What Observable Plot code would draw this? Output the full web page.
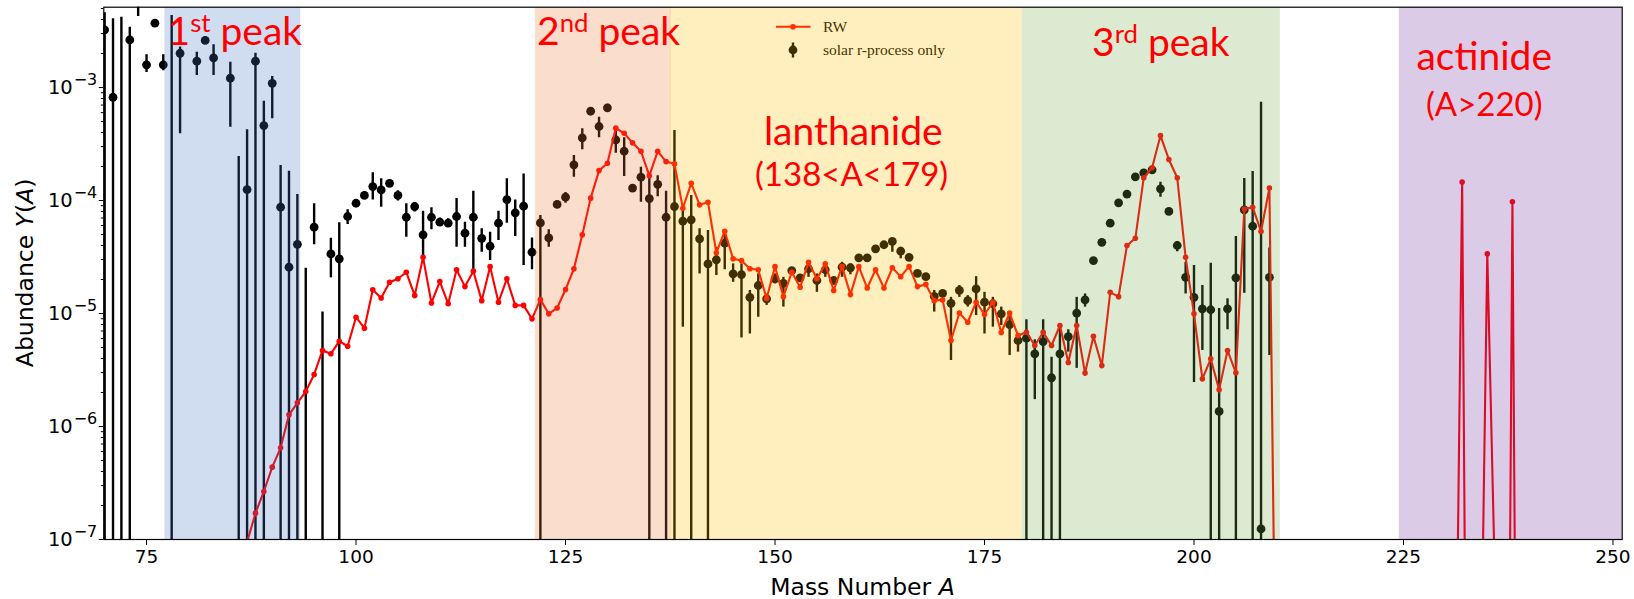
<!DOCTYPE html>
<html>
<head>
<meta charset="utf-8">
<script src="https://cdn.jsdelivr.net/npm/d3@7"></script>
<script src="https://cdn.jsdelivr.net/npm/@observablehq/plot@0.6"></script>
<style>
  html, body { margin: 0; padding: 0; background: #fff; }
  #chart svg { display: block; }
</style>
</head>
<body>
<div id="chart"></div>
<script>
// ---- Solar r-process residuals: mass number, abundance, error-bar bounds ----
// null abundance: only the error bar is shown; a bound of 1e-9 runs past the axis floor.
const solarA = [70,71,72,73,74,75,76,77,78,79,81,82,83,85,86,87,88,89,90,91,92,93,94,95,96,97,98,99,
  100,101,102,103,104,105,106,107,108,109,110,111,112,113,114,115,116,117,118,119,120,121,122,123,124,125,
  126,127,128,129,130,131,132,133,134,135,136,137,138,139,140,141,142,143,144,145,146,147,148,149,150,
  151,152,153,154,155,156,157,158,159,160,161,162,163,164,165,166,167,168,169,170,171,172,173,174,175,
  176,177,178,179,180,181,182,183,184,185,186,187,188,189,190,191,192,193,194,195,196,197,198,199,200,
  201,202,203,204,205,206,207,208,209];
const solarY = [3.24e-3,8.2e-4,null,2.64e-3,6.5e-3,1.59e-3,3.71e-3,1.59e-3,null,2.01e-3,1.71e-3,2.61e-3,1.83e-3,1.21e-3,null,1.25e-4,1.71e-3,4.61e-4,1.09e-3,8.73e-5,2.57e-5,4.10e-5,null,5.81e-5,null,3.37e-5,3.05e-5,7.22e-5,
  9.46e-5,1.11e-4,1.33e-4,1.24e-4,1.42e-4,1.11e-4,7.11e-5,8.85e-5,4.97e-5,7.11e-5,6.43e-5,6.3e-5,7.22e-5,5.14e-5,7.11e-5,4.63e-5,3.94e-5,6.3e-5,1.02e-4,7.78e-5,8.91e-5,3.49e-5,6.34e-5,4.67e-5,9.23e-5,1.07e-4,
  2.07e-4,3.59e-4,6.17e-4,4.52e-4,6.61e-4,3.44e-4,2.73e-4,1.29e-4,1.61e-4,1.04e-4,1.39e-4,7.11e-5,8.85e-5,6.56e-5,6.75e-5,4.58e-5,2.75e-5,2.99e-5,4.19e-5,2.24e-5,2.21e-5,1.39e-5,1.77e-5,1.35e-5,2.03e-5,
  1.85e-5,2.4e-5,2.07e-5,2.49e-5,1.96e-5,2.44e-5,1.96e-5,2.57e-5,2.54e-5,3.11e-5,3.11e-5,3.74e-5,4.06e-5,4.34e-5,3.56e-5,3.14e-5,2.27e-5,2.12e-5,1.42e-5,1.51e-5,1.23e-5,1.6e-5,1.3e-5,1.65e-5,1.26e-5,
  1.22e-5,9.94e-6,7.99e-6,5.77e-6,6.04e-6,4.4e-6,5.65e-6,2.7e-6,4.4e-6,6.25e-6,1.01e-5,1.32e-5,2.94e-5,4.27e-5,6.3e-5,9.54e-5,1.14e-4,1.62e-4,1.76e-4,1.87e-4,1.27e-4,8.0e-5,4.0e-5,2.09e-5,1.39e-5,
  1.1e-5,1.08e-5,1.36e-6,1.1e-5,2.07e-5,8.28e-5,5.92e-5,1.24e-7,2.09e-5];
const solarLo = [1e-9,1e-9,1e-9,1e-9,4.25e-3,1.36e-3,3.45e-3,1.41e-3,1e-9,3.89e-4,1.28e-3,2.45e-3,1.28e-3,4.46e-4,1e-9,1e-9,1e-9,1e-9,5.28e-4,1e-9,1e-9,1e-9,1e-9,4.06e-5,1e-9,2.07e-5,1e-9,6.14e-5,
  8.8e-5,1.03e-4,1.01e-4,8.73e-5,1.32e-4,9.9e-5,4.73e-5,7.9e-5,3.14e-5,5.5e-5,5.9e-5,5.8e-5,3.85e-5,3.85e-5,2.4e-5,3.49e-5,2.94e-5,4.43e-5,6.3e-5,4.8e-5,2.66e-5,2.44e-5,1e-9,3.85e-5,8.6e-5,9.46e-5,
  1.61e-4,2.81e-4,5.7e-4,3.59e-4,6.1e-4,2.62e-4,1.63e-4,1.2e-4,9.66e-5,1e-9,1.08e-4,1e-9,1e-9,7.57e-6,1e-9,2.24e-5,1e-9,2.17e-5,2.44e-5,1.89e-5,6.08e-6,6.59e-6,9.27e-6,1.18e-5,1.83e-5,
  1.14e-5,2.25e-5,1.95e-5,2.09e-5,1.54e-5,2.09e-5,1.85e-5,2.09e-5,2.2e-5,2.95e-5,2.95e-5,3.55e-5,3.85e-5,3.49e-5,3.05e-5,2.95e-5,2.15e-5,2.0e-5,1.03e-5,1.42e-5,3.84e-6,1.39e-5,1.14e-5,9.59e-6,6.59e-6,
  7.57e-6,7.83e-6,4.25e-6,4.55e-6,1e-9,1.73e-6,1e-9,1e-9,1e-9,4.55e-6,3.27e-6,1.14e-5,2.8e-5,4.05e-5,6.0e-5,9.1e-5,1.09e-4,1.55e-4,1.66e-4,1.76e-4,1.07e-4,7.6e-5,3.52e-5,1.49e-5,2.45e-6,
  4.71e-6,1e-9,1e-9,7.18e-6,1e-9,1.51e-5,1e-9,1e-9,4.25e-6];
const solarHi = [4.6e-3,4.06e-3,4.19e-3,3.42e-3,9e-3,1.95e-3,3.95e-3,1.95e-3,4.34e-3,2.28e-3,2.05e-3,2.8e-3,2.39e-3,1.67e-3,2.45e-4,4.23e-4,2.01e-3,7.57e-4,1.25e-3,2.04e-4,1.82e-4,1.13e-4,2.52e-5,9.35e-5,1.03e-5,4.63e-5,6.35e-5,8.28e-5,
  1.02e-4,1.2e-4,1.76e-4,1.56e-4,1.52e-4,1.22e-4,9.35e-5,9.6e-5,8.04e-5,8.61e-5,7.0e-5,6.9e-5,1.04e-4,6.43e-5,1.21e-4,5.62e-5,5.24e-5,8.04e-5,1.56e-4,1.01e-4,1.72e-4,4.67e-5,7.36e-5,5.5e-5,9.9e-5,1.18e-4,
  2.50e-4,4.31e-4,6.6e-4,5.46e-4,7.1e-4,4.16e-4,3.59e-4,1.38e-4,1.97e-4,1.72e-4,1.66e-4,1.21e-4,4.16e-4,8.15e-5,1.11e-4,5.62e-5,5.43e-5,3.85e-5,5.07e-5,2.75e-5,2.75e-5,1.6e-5,2.24e-5,1.49e-5,2.24e-5,
  2.09e-5,2.55e-5,2.2e-5,2.75e-5,2.24e-5,2.75e-5,2.08e-5,2.84e-5,2.75e-5,3.3e-5,3.3e-5,3.95e-5,4.3e-5,4.6e-5,3.85e-5,3.3e-5,2.4e-5,2.25e-5,1.6e-5,1.6e-5,1.39e-5,1.77e-5,1.44e-5,2.12e-5,1.54e-5,
  1.39e-5,1.14e-5,9.59e-6,6.59e-6,8.79e-6,5.85e-6,8.79e-6,4.1e-6,7.99e-6,7.18e-6,1.39e-5,1.49e-5,3.1e-5,4.5e-5,6.6e-5,1.0e-4,1.2e-4,1.7e-4,1.86e-4,1.98e-4,1.45e-4,8.4e-5,4.34e-5,2.84e-5,2.66e-5,
  1.77e-5,2.79e-5,1.11e-5,1.35e-5,4.8e-5,1.57e-4,1.81e-4,7.41e-4,3.8e-5];

// ---- RW network calculation: mass number and abundance ----
const rwA = [87,88,89,90,91,92,93,94,95,96,97,98,99,100,101,102,103,104,105,106,107,108,109,110,111,112,113,114,115,116,117,118,119,120,
  121,122,123,124,125,126,127,128,129,130,131,132,133,134,135,136,137,138,139,140,141,142,143,144,145,146,147,148,149,150,
  151,152,153,154,155,156,157,158,159,160,161,162,163,164,165,166,167,168,169,170,171,172,173,174,175,176,177,178,179,180,
  181,182,183,184,185,186,187,188,189,190,191,192,193,194,195,196,197,198,199,200,201,202,203,204,205,206,207,208,209,210,
  231,232,233,234,235,236,237,238,239];
const rwY = [9.5e-8,1.71e-7,2.66e-7,4.37e-7,6.48e-7,1.27e-6,1.62e-6,2.04e-6,2.89e-6,4.71e-6,4.4e-6,5.69e-6,5.13e-6,9.27e-6,7.41e-6,1.62e-5,1.37e-5,1.89e-5,2.03e-5,2.32e-5,1.44e-5,3.14e-5,1.24e-5,1.92e-5,1.22e-5,2.44e-5,1.73e-5,2.37e-5,1.3e-5,2.6e-5,1.26e-5,2.03e-5,1.18e-5,1.18e-5,
  8.97e-6,1.33e-5,9.94e-6,1.12e-5,1.63e-5,2.49e-5,4.97e-5,1.05e-4,1.84e-4,2.14e-4,4.37e-4,3.94e-4,3.24e-4,2.73e-4,1.66e-4,2.72e-4,2.21e-4,2.11e-4,8.55e-5,1.42e-4,9.16e-5,9.66e-5,3.45e-5,5.35e-5,3.05e-5,2.94e-5,2.49e-5,2.44e-5,1.36e-5,2.6e-5,
  1.41e-5,2.32e-5,1.71e-5,2.84e-5,2.03e-5,2.75e-5,1.6e-5,2.6e-5,1.47e-5,2.6e-5,1.68e-5,2.44e-5,1.68e-5,2.54e-5,2.12e-5,2.6e-5,1.73e-5,1.81e-5,1.3e-5,1.32e-5,5.77e-6,1.01e-5,8.37e-6,1.26e-5,9.8e-6,1.26e-5,6.79e-6,1.01e-5,6.38e-6,6.83e-6,
  5.21e-6,6.83e-6,5.21e-6,7.83e-6,3.68e-6,7.83e-6,2.97e-6,6.3e-6,3.46e-6,1.54e-5,1.41e-5,4.0e-5,4.63e-5,1.59e-4,1.95e-4,3.76e-4,2.31e-4,1.59e-4,3.14e-5,9.94e-6,2.64e-6,3.97e-6,2.11e-6,4.71e-6,2.99e-6,8.4e-5,8.73e-5,5.32e-5,1.29e-4,1e-10,
  7e-11,1.46e-4,4e-15,3e-10,3.38e-5,2.3e-8,1e-15,9.73e-5,1e-15];

// ---- Shaded mass regions ----
const regionNames  = ["1st peak", "2nd peak", "lanthanide", "3rd peak", "actinide"];
const regionStart  = [77.2, 121.4, 137.5, 179.5, 224.5];
const regionEnd    = [93.4, 137.6, 179.5, 210.3, 251.5];
const regionColors = ["#4472C4", "#ED7D31", "#FFC000", "#70AD47", "#7030A0"];

// ---- Axis ticks ----
const xTicks = [75, 100, 125, 150, 175, 200, 225, 250];
const yTicks = [1e-7, 1e-6, 1e-5, 1e-4, 1e-3];

// ---- Region annotations: [base, superscript, rest], anchor mass number, baseline abundance, size ----
const noteParts = [["1", "st", " peak"], ["2", "nd", " peak"], ["3", "rd", " peak"], ["lanthanide"], ["(138<A<179)"], ["actinide"], ["(A>220)"]];
const noteA     = [85.6, 130.2, 196.1, 159.4, 159.2, 234.7, 234.7];
const noteY     = [2.35e-3, 2.35e-3, 1.88e-3, 3.07e-4, 1.33e-4, 1.41e-3, 5.54e-4];
const noteSize  = [39, 39, 39, 39, 33, 39, 33];

const xDomain = [69.9, 251.1];
const yDomain = [1e-7, 5.14e-3];

const solar = solarA.map((a, i) => ({a, y: solarY[i], lo: solarLo[i], hi: solarHi[i]}));
const rw = rwA.map((a, i) => ({a, y: rwY[i]}));
const regions = regionNames.map((name, i) => ({name, start: regionStart[i], end: regionEnd[i], color: regionColors[i]}));

// minor log ticks 2..9 × 10^k inside the y domain
const yMinor = [];
for (const base of yTicks) for (let m = 2; m <= 9; m++) if (m * base < yDomain[1]) yMinor.push(m * base);

const plot = Plot.plot({
  width: 1634,
  height: 599,
  marginLeft: 103.3,
  marginRight: 12.3,
  marginTop: 6.7,
  marginBottom: 60,
  style: {fontFamily: "'DejaVu Sans', sans-serif", fontSize: "18.5px", color: "#000", background: "#fff", overflow: "visible"},
  x: {domain: xDomain, label: null},
  y: {type: "log", domain: yDomain, label: null},
  marks: [
    Plot.axisX({ticks: xTicks, tickSize: 6, tickPadding: 4, tickFormat: d => String(d), label: null}),
    Plot.axisY({ticks: yTicks, tickSize: 4.5, tickPadding: 2, tickFormat: d => "e" + Math.round(Math.log10(d)), label: null}),
    Plot.axisY({ticks: yMinor, tickSize: 2.5, tickFormat: () => "", label: null}),
    // solar r-process error bars and points
    Plot.ruleX(solar, {x: "a", y1: "lo", y2: "hi", stroke: "#000", strokeWidth: 2.4, clip: true}),
    Plot.dot(solar.filter(d => d.y != null), {x: "a", y: "y", r: 4.4, fill: "#000", stroke: "none", clip: true}),
    // RW calculation
    Plot.line(rw, {x: "a", y: "y", stroke: "red", strokeWidth: 2.1, clip: true}),
    Plot.dot(rw, {x: "a", y: "y", r: 2.8, fill: "red", stroke: "none", clip: true}),
    // translucent bands over everything drawn so far
    Plot.rect(regions, {x1: "start", x2: "end", y1: () => yDomain[0], y2: () => yDomain[1], fill: d => d.color, fillOpacity: 0.25, clip: true}),
    Plot.frame({stroke: "#000", strokeWidth: 1.2})
  ]
});

document.getElementById("chart").appendChild(plot);

const svg = d3.select(plot);
const sx = plot.scale("x");
const sy = plot.scale("y");

// y tick labels as 10 with a raised exponent
svg.selectAll('g[aria-label="y-axis tick label"] text').each(function () {
  const t = d3.select(this);
  const s = t.text();
  if (!s.startsWith("e")) return;
  const e = +s.slice(1);
  t.text(null).attr("font-size", 19.5);
  t.append("tspan").text("10");
  t.append("tspan").attr("dx", 1).attr("dy", "-0.55em").attr("font-size", "0.82em").text((e < 0 ? "\u2212" : "") + Math.abs(e));
});

// legend, placed below the bands so it takes their tint
const legend = svg.insert("g", 'g[aria-label="rect"]')
  .attr("font-family", "'Liberation Serif', 'Times New Roman', serif")
  .attr("font-size", 15.5)
  .attr("text-anchor", "start")
  .attr("fill", "#000");
legend.append("line").attr("x1", 776).attr("x2", 810.5).attr("y1", 26.7).attr("y2", 26.7)
  .attr("stroke", "red").attr("stroke-width", 2);
legend.append("circle").attr("cx", 793).attr("cy", 26.7).attr("r", 2.8).attr("fill", "red");
legend.append("text").attr("x", 823).attr("y", 26.7).attr("dy", "0.35em").text("RW");
legend.append("line").attr("x1", 793).attr("x2", 793).attr("y1", 42.5).attr("y2", 57.5)
  .attr("stroke", "#000").attr("stroke-width", 2.4);
legend.append("circle").attr("cx", 793).attr("cy", 50).attr("r", 4.4).attr("fill", "#000");
legend.append("text").attr("x", 823).attr("y", 50).attr("dy", "0.35em").text("solar r-process only");

// region annotations on top
const notes = svg.append("g")
  .attr("font-family", "Lato, 'Open Sans', sans-serif")
  .attr("fill", "#ff0000")
  .attr("text-anchor", "middle");
noteParts.forEach((parts, i) => {
  const size = noteSize[i];
  const t = notes.append("text")
    .attr("x", sx.apply(noteA[i]))
    .attr("y", sy.apply(noteY[i]))
    .attr("font-size", size);
  t.append("tspan").text(parts[0]);
  if (parts.length > 1) {
    const lift = size * 0.34;
    t.append("tspan").attr("font-size", size * 0.66).attr("dy", -lift).text(parts[1]);
    t.append("tspan").attr("dy", lift).text(parts[2]);
  }
});

// axis titles
const fx = (sx.range[0] + sx.range[1]) / 2;
const xl = svg.append("text")
  .attr("x", fx).attr("y", 595)
  .attr("text-anchor", "middle")
  .attr("font-family", "'DejaVu Sans', sans-serif")
  .attr("font-size", 23.5)
  .attr("fill", "#000");
xl.append("tspan").text("Mass Number ");
xl.append("tspan").attr("font-style", "italic").text("A");

const fy = (sy.range[0] + sy.range[1]) / 2;
const yl = svg.append("text")
  .attr("transform", `translate(33,${fy}) rotate(-90)`)
  .attr("text-anchor", "middle")
  .attr("font-family", "'DejaVu Sans', sans-serif")
  .attr("font-size", 23.5)
  .attr("fill", "#000");
yl.append("tspan").text("Abundance ");
yl.append("tspan").attr("font-style", "italic").text("Y");
yl.append("tspan").text("(");
yl.append("tspan").attr("font-style", "italic").text("A");
yl.append("tspan").text(")");
</script>
</body>
</html>
